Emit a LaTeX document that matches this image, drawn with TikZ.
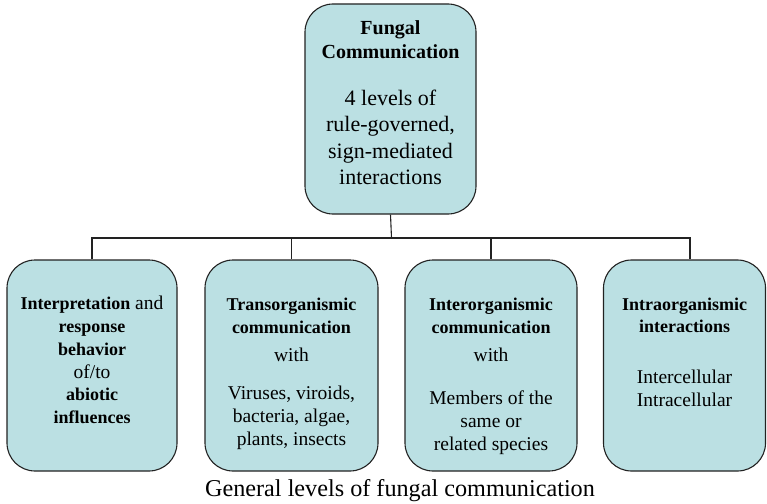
\documentclass[tikz,border=0pt]{standalone}
\usepackage{fontspec}
\setmainfont{Liberation Serif}
\definecolor{boxfill}{HTML}{BBE0E3}
\definecolor{boxline}{HTML}{222222}
\newcommand{\bw}[1]{{\fontsize{18}{23}\selectfont\bfseries #1}}
\newcommand{\tw}[1]{{\fontsize{20}{24.5}\selectfont\bfseries #1}}
\begin{document}
\begin{tikzpicture}[x=1pt,y=-1pt,
  card/.style={draw=boxline, line width=1.1pt, fill=boxfill, rounded corners=28pt, inner sep=0pt},
  bottomcard/.style={card, minimum height=211pt},
  txt/.style={align=center, inner sep=0pt, anchor=north, font=\fontsize{19.5}{23}\selectfont},
  conn/.style={draw=boxline, line width=1.1pt},
]
\useasboundingbox (0,0) rectangle (767,503);
% boxes
\node[card, minimum width=171pt, minimum height=210pt] (top) at (390.5,109) {};
\node[bottomcard, minimum width=170pt] (b1) at (92,365.5) {};
\node[bottomcard, minimum width=173pt] (b2) at (291.5,365.5) {};
\node[bottomcard, minimum width=172pt] (b3) at (491,365.5) {};
\node[bottomcard, minimum width=162pt] (b4) at (684.5,365.5) {};
% texts
\node[txt, font=\fontsize{22}{26.6}\selectfont] (ttop) at (390.5,20.5) {\tw{Fungal}\\[-2.6pt] \tw{Communication}\\[20pt]
  4 levels of\\ rule-governed,\\ sign-mediated\\ interactions};
\node[txt, font=\fontsize{19.5}{22.8}\selectfont] (t1) at (92,296) {\bw{Interpretation} and\\ \bw{response}\\ \bw{behavior}\\ of/to\\ \bw{abiotic}\\ \bw{influences}};
\node[txt] (t2) at (291.5,298) {\bw{Transorganismic}\\ \bw{communication}\\[5pt] with\\[15pt]
  Viruses, viroids,\\ bacteria, algae,\\ plants, insects};
\node[txt] (t3) at (491,298) {\bw{Interorganismic}\\ \bw{communication}\\[5pt] with\\[20pt]
  Members of the\\ same or\\ related species};
\node[txt, font=\fontsize{19.5}{22.3}\selectfont] (t4) at (684.5,298) {\bw{Intraorganismic}\\ \bw{interactions}\\[28.5pt]
  Intercellular\\ Intracellular};
% caption
\node[inner sep=0pt, anchor=base] (cap) at (400,496.5) {\fontsize{24.2}{27}\selectfont General levels of fungal communication};
% connectors
\coordinate (bus) at (391.5,238);
\coordinate (busR) at (690,238);
\path[conn] (top.south) -- (bus);
\path[conn] (b1.north) |- (busR) -- (busR |- b4.north);
\path[conn] (bus) -| (b2.north);
\path[conn] (bus) -| (b3.north);
\end{tikzpicture}
\end{document}
